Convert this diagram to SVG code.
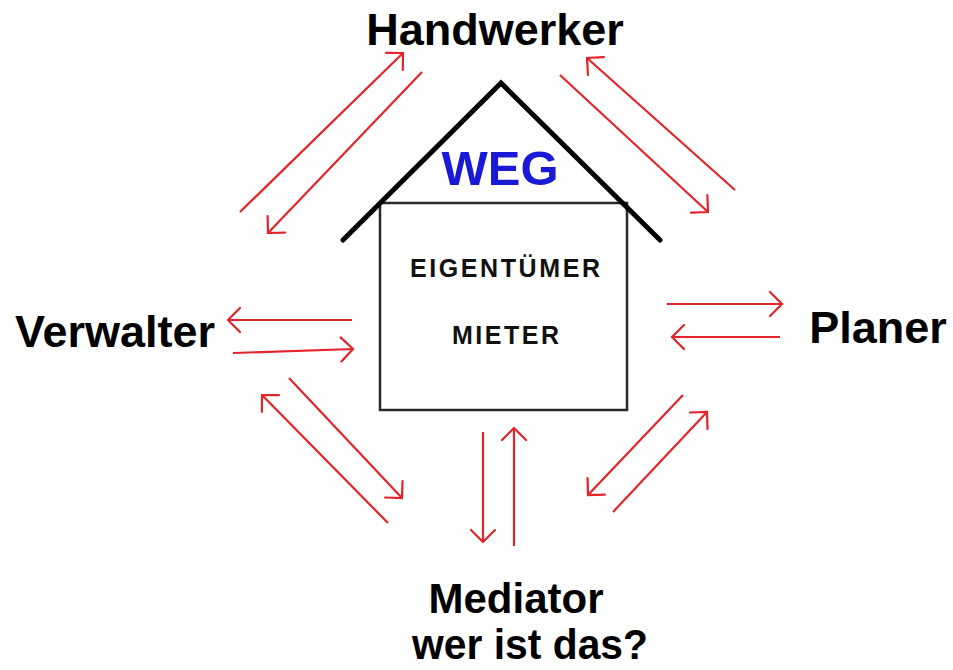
<svg xmlns="http://www.w3.org/2000/svg" width="953" height="670" viewBox="0 0 953 670">
<defs>
<marker id="chev" markerUnits="userSpaceOnUse" markerWidth="30" markerHeight="30" viewBox="-15 -15 30 30" refX="0" refY="0" orient="auto">
<path d="M-12,-12 L0,0 L-12,12" fill="none" stroke="#e3242b" stroke-width="2.2" stroke-linecap="round" stroke-linejoin="miter"/>
</marker>
</defs>
<style>
.lbl{font-family:"Liberation Sans",Arial,sans-serif;font-weight:bold;fill:#000}
.big{font-size:45px}
.med{font-size:42px}
.in{font-size:25px;fill:#111}
.arr{fill:none;stroke:#e3242b;stroke-width:2.2;marker-end:url(#chev)}
</style>
<rect width="953" height="670" fill="#fff"/>
<g id="house">
<rect x="380" y="203" width="247" height="207" fill="none" stroke="#2a2a2a" stroke-width="2.5"/>
<polyline points="343,240 501,83 660,240" fill="none" stroke="#000" stroke-width="5" stroke-linecap="round" stroke-linejoin="miter"/>
<text x="500" y="185" text-anchor="middle" style="font-family:'Liberation Sans',Arial,sans-serif;font-weight:bold;font-size:49px;fill:#1a1ad6">WEG</text>
<text class="lbl in" x="410" y="277" textLength="190" lengthAdjust="spacing">EIGENTÜMER</text>
<text class="lbl in" x="452" y="344" textLength="107" lengthAdjust="spacing">MIETER</text>
</g>
<g id="handwerker"><text class="lbl big" x="495" y="45" text-anchor="middle">Handwerker</text></g>
<g id="verwalter"><text class="lbl big" x="15" y="347">Verwalter</text></g>
<g id="planer"><text class="lbl big" x="878" y="343" text-anchor="middle">Planer</text></g>
<g id="mediator">
<text class="lbl med" x="516" y="613" text-anchor="middle">Mediator</text>
<text class="lbl med" x="530" y="659" text-anchor="middle" textLength="236" lengthAdjust="spacingAndGlyphs">wer ist das?</text>
</g>
<g id="connectors">
<path class="arr" d="M240,212 L403,53"/>
<path class="arr" d="M422,72 L268,233"/>
<path class="arr" d="M735,190 L587,58"/>
<path class="arr" d="M560,75 L708,212"/>
<path class="arr" d="M352,320 L228,320"/>
<path class="arr" d="M233,353 L353,349"/>
<path class="arr" d="M667,304 L782,304"/>
<path class="arr" d="M780,337 L672,337"/>
<path class="arr" d="M388,523 L262,395"/>
<path class="arr" d="M289,378 L402,498"/>
<path class="arr" d="M683,395 L588,495"/>
<path class="arr" d="M613,512 L707,412"/>
<path class="arr" d="M483,432 L483,542"/>
<path class="arr" d="M514,546 L514,428"/>
</g>
</svg>
